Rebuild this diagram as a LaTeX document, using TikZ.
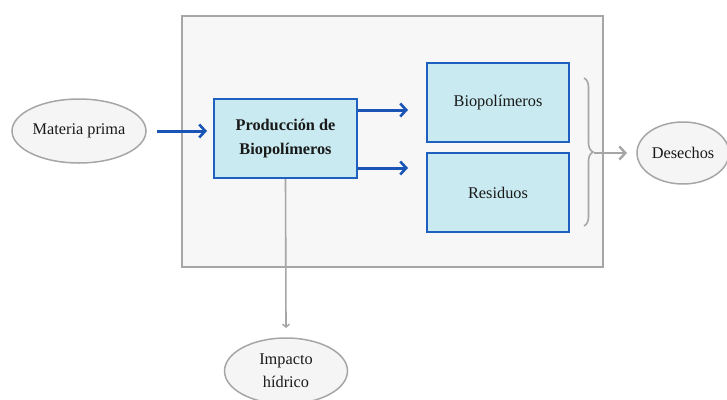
\documentclass[tikz,border=0pt]{standalone}
\usepackage{fontspec}
\setmainfont{Liberation Serif}
\usetikzlibrary{arrows.meta,decorations.pathreplacing,shapes.geometric}
\definecolor{boxblue}{HTML}{1F5FC0}
\definecolor{boxfill}{HTML}{C8EAF0}
\definecolor{arrblue}{HTML}{1A55B5}
\definecolor{greyln}{HTML}{A6A6A6}
\definecolor{panel}{HTML}{F7F7F7}
\definecolor{ellfill}{HTML}{F5F5F5}
\begin{document}
\begin{tikzpicture}[x=1pt,y=-1pt,
  txt/.style={font=\fontsize{16.3}{23}\selectfont, align=center, text=black!90},
  procbox/.style={txt, draw=boxblue, line width=2pt, fill=boxfill, inner sep=0pt},
  oval/.style={txt, ellipse, draw=greyln, line width=1.5pt, fill=ellfill, inner sep=0pt},
  blarrow/.style={draw=arrblue, line width=3pt, -{Straight Barb[length=6pt,width=13pt,line width=2.6pt]}},
  grarrow/.style={draw=greyln, line width=2.6pt, -{Straight Barb[length=6pt,width=13pt,line width=2.4pt]}},
  thinarrow/.style={draw=greyln, line width=1.6pt, -{Straight Barb[length=3pt,width=7pt,line width=1.4pt]}}]
\useasboundingbox (0,0) rectangle (727,399);
\begin{scope}
\clip (0,0) rectangle (727,399);
% panel
\node[draw=greyln, line width=2pt, fill=panel, minimum width=421pt, minimum height=251pt, inner sep=0pt] (panel) at (392.5,141.5) {};
% nodes
\node[oval, minimum width=134pt, minimum height=64pt] (mp) at (79,131) {Materia prima};
\node[procbox, minimum width=143pt, minimum height=79pt, font=\fontsize{16.3}{24}\selectfont\bfseries] (prod) at (285.5,138.5) {Producción de\\Biopolímeros};
\node[procbox, minimum width=142pt, minimum height=79pt] (bio) at (498,102.5) {Biopolímeros};
\node[procbox, minimum width=142pt, minimum height=79pt] (res) at (498,192.5) {Residuos};
\node[oval, minimum width=92pt, minimum height=62pt] (des) at (683,153) {Desechos};
\node[oval, minimum width=123pt, minimum height=66pt] (imp) at (286,371) {Impacto\\hídrico};
% coordinates
\coordinate (b1) at (584,78);
\coordinate (b2) at (584,226);
\coordinate (btip) at (594,153);
\coordinate (ta) at (408,110);
\coordinate (tb) at (408,168);
% connectors
\draw[blarrow] (157,131) coordinate (mpa) -- (207,131) coordinate (mpb);
\draw[blarrow] (prod.east |- ta) -- (ta);
\draw[blarrow] (prod.east |- tb) -- (tb);
\draw[greyln, line width=1.6pt, decorate, decoration={brace, amplitude=9pt}] (b1) -- (b2);
\draw[grarrow] (btip) -- (627,153);
\draw[thinarrow] (prod.south) -- (286,328);
\end{scope}
\end{tikzpicture}
\end{document}
